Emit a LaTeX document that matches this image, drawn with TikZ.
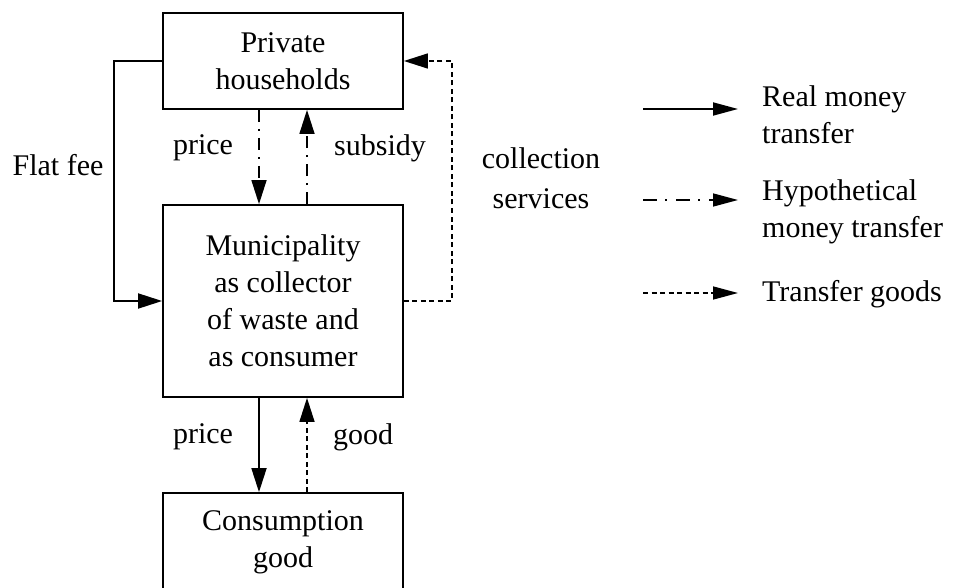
\documentclass[tikz,border=0pt]{standalone}
\usepackage{fontspec}
\setmainfont{Liberation Serif}
\usetikzlibrary{arrows.meta}
\begin{document}
\begin{tikzpicture}[x=1pt,y=-1pt,
  every node/.style={font=\fontsize{30}{37}\selectfont},
  box/.style={draw, line width=1.8pt, minimum width=240pt, align=center, inner sep=0pt},
  lbl/.style={inner sep=0pt, align=center},
  tip/.style={-{Triangle[length=24pt,width=15pt]}},
  real/.style={tip, line width=1.8pt},
  hypo/.style={tip, line width=1.5pt, dash pattern=on 12pt off 7pt on 2pt off 7pt},
  goods/.style={tip, line width=1.5pt, dash pattern=on 5pt off 3.5pt}
]
\useasboundingbox (0,0) rectangle (958,588);

\node[box, minimum height=96pt] (ph) at (283,61) {Private\\households};
\node[box, minimum height=192pt] (mun) at (283,301) {Municipality\\as collector\\of waste and\\as consumer};
\node[box, minimum height=98pt] (cg) at (283,542) {Consumption\\good};

% flat fee
\draw[real] (ph.west) -- ++(-48,0) |- (mun.west);
\node[lbl] (ff) at (58,165) {Flat fee};

% collection services
\draw[goods] (mun.east) -- ++(48,0) |- (ph.east);
\node[lbl, font=\fontsize{30}{40}\selectfont] (cs) at (541,178) {collection\\services};

% price / subsidy (hypothetical)
\draw[hypo] ([xshift=-24pt]ph.south) -- ([xshift=-24pt]mun.north);
\draw[hypo] ([xshift=24pt]mun.north) -- ([xshift=24pt]ph.south);
\node[lbl] (p1) at (203,148) {price};
\node[lbl] (sub) at (380,148) {subsidy};

% price / good (lower)
\draw[real] ([xshift=-24pt]mun.south) -- ([xshift=-24pt]cg.north);
\draw[goods] ([xshift=24pt]cg.north) -- ([xshift=24pt]mun.south);
\node[lbl] (p2) at (203,437) {price};
\node[lbl] (gd) at (363,437) {good};

% legend
\coordinate (la1) at (643,109);
\coordinate (lb1) at (738,109);
\draw[real, -{Triangle[length=25pt,width=13pt]}] (la1) -- (lb1);
\node[lbl, anchor=west, align=left] (t1) at (762,115) {Real money\\transfer};

\coordinate (la2) at (643,200);
\coordinate (lb2) at (738,200);
\draw[hypo, -{Triangle[length=25pt,width=13pt]}, dash pattern=on 14pt off 8pt on 2pt off 9pt] (la2) -- (lb2);
\node[lbl, anchor=west, align=left] (t2) at (762,212) {Hypothetical\\money transfer};

\coordinate (la3) at (643,293);
\coordinate (lb3) at (738,293);
\draw[goods, -{Triangle[length=25pt,width=13pt]}] (la3) -- (lb3);
\node[lbl, anchor=west, align=left] (t3) at (762,294) {Transfer goods};
\end{tikzpicture}
\end{document}
